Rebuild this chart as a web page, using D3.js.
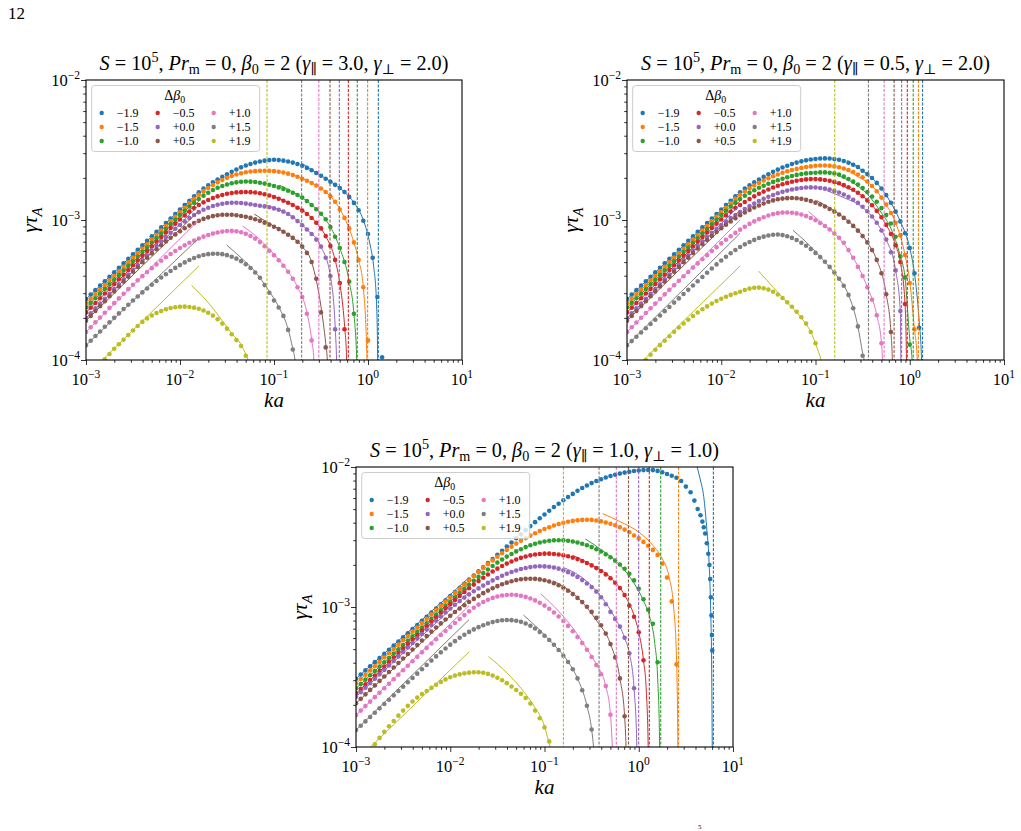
<!DOCTYPE html>
<html>
<head>
<meta charset="utf-8">
<script src="https://cdn.jsdelivr.net/npm/d3@7"></script>
<style>
  html, body { margin: 0; padding: 0; background: #fff; }
  svg text { font-family: "Liberation Serif", "DejaVu Serif", serif; fill: #000; }
</style>
</head>
<body>
<svg id="fig" width="1021" height="831"></svg>
<script>
// ---- shared categories / labels ----
const LOG_KA = [-3.00,-2.95,-2.90,-2.85,-2.80,-2.75,-2.70,-2.65,-2.60,-2.55,-2.50,-2.45,-2.40,-2.35,-2.30,-2.25,-2.20,-2.15,-2.10,-2.05,
  -2.00,-1.95,-1.90,-1.85,-1.80,-1.75,-1.70,-1.65,-1.60,-1.55,-1.50,-1.45,-1.40,-1.35,-1.30,-1.25,-1.20,-1.15,-1.10,-1.05,
  -1.00,-0.95,-0.90,-0.85,-0.80,-0.75,-0.70,-0.65,-0.60,-0.55,-0.50,-0.45,-0.40,-0.35,-0.30,-0.25,-0.20,-0.15,-0.10,-0.05,
  0.00,0.05,0.10,0.15,0.20,0.25,0.30,0.35,0.40,0.45,0.50,0.55];
const SERIES_LABELS = ['\u22121.9','\u22121.5','\u22121.0','\u22120.5','+0.0','+0.5','+1.0','+1.5','+1.9'];
const COLORS = ['#1f77b4','#ff7f0e','#2ca02c','#d62728','#9467bd','#8c564b','#e377c2','#7f7f7f','#bcbd22'];
const X_TICKS = [1e-3, 1e-2, 1e-1, 1e0, 1e1];
const X_TICK_EXP = ['\u22123','\u22122','\u22121','0','1'];
const Y_TICKS = [1e-4, 1e-3, 1e-2];
const Y_TICK_EXP = ['\u22124','\u22123','\u22122'];
const GAMMA_PAR = ['3.0','0.5','1.0'];
const GAMMA_PERP = ['2.0','2.0','1.0'];

// ---- panel 1 (gamma_par = 3.0, gamma_perp = 2.0), log10(gamma tau_A) on LOG_KA ----
const P1_BLUE = [-3.565,-3.533,-3.501,-3.469,-3.437,-3.405,-3.373,-3.341,-3.309,-3.277,
  -3.245,-3.213,-3.181,-3.149,-3.117,-3.085,-3.053,-3.021,-2.989,-2.957,
  -2.925,-2.893,-2.862,-2.831,-2.802,-2.776,-2.753,-2.731,-2.711,-2.692,
  -2.674,-2.656,-2.639,-2.624,-2.611,-2.600,-2.590,-2.582,-2.576,-2.572,
  -2.570,-2.572,-2.576,-2.582,-2.590,-2.600,-2.613,-2.628,-2.645,-2.664,
  -2.684,-2.705,-2.727,-2.749,-2.772,-2.800,-2.835,-2.878,-2.930,-3.005,
  -3.100,-3.270,-3.550,-3.980];
const P1_ORANGE = [-3.595,-3.563,-3.530,-3.498,-3.465,-3.433,-3.400,-3.368,-3.335,-3.303,
  -3.270,-3.238,-3.205,-3.173,-3.140,-3.108,-3.075,-3.043,-3.010,-2.978,
  -2.945,-2.913,-2.880,-2.849,-2.820,-2.794,-2.771,-2.750,-2.731,-2.714,
  -2.699,-2.686,-2.675,-2.666,-2.659,-2.654,-2.651,-2.649,-2.648,-2.649,
  -2.651,-2.655,-2.661,-2.669,-2.679,-2.691,-2.705,-2.720,-2.736,-2.754,
  -2.775,-2.800,-2.830,-2.870,-2.925,-2.985,-3.060,-3.160,-3.285,-3.480,
  -3.860];
const P1_GREEN = [-3.625,-3.592,-3.559,-3.526,-3.493,-3.460,-3.427,-3.394,-3.361,-3.328,
  -3.295,-3.262,-3.229,-3.196,-3.163,-3.130,-3.097,-3.064,-3.031,-2.998,
  -2.965,-2.934,-2.904,-2.876,-2.850,-2.826,-2.805,-2.786,-2.770,-2.757,
  -2.746,-2.737,-2.731,-2.727,-2.725,-2.726,-2.729,-2.734,-2.740,-2.748,
  -2.757,-2.767,-2.778,-2.791,-2.805,-2.821,-2.840,-2.865,-2.893,-2.923,
  -2.955,-2.995,-3.050,-3.120,-3.200,-3.300,-3.440,-3.670];
const P1_RED = [-3.660,-3.626,-3.593,-3.559,-3.525,-3.492,-3.458,-3.424,-3.391,-3.357,
  -3.323,-3.290,-3.256,-3.222,-3.189,-3.155,-3.122,-3.089,-3.057,-3.026,
  -2.996,-2.967,-2.940,-2.915,-2.893,-2.874,-2.857,-2.843,-2.831,-2.821,
  -2.813,-2.807,-2.803,-2.801,-2.800,-2.801,-2.804,-2.809,-2.816,-2.825,
  -2.836,-2.848,-2.862,-2.877,-2.893,-2.912,-2.933,-2.957,-2.986,-3.020,
  -3.060,-3.115,-3.185,-3.285,-3.450,-3.780];
const P1_PURPLE = [-3.700,-3.666,-3.631,-3.597,-3.562,-3.528,-3.493,-3.459,-3.424,-3.390,
  -3.355,-3.321,-3.286,-3.252,-3.218,-3.185,-3.153,-3.122,-3.092,-3.063,
  -3.036,-3.010,-2.986,-2.964,-2.944,-2.927,-2.912,-2.900,-2.891,-2.884,
  -2.879,-2.877,-2.877,-2.879,-2.883,-2.888,-2.893,-2.898,-2.903,-2.909,
  -2.917,-2.927,-2.940,-2.957,-2.980,-3.008,-3.038,-3.068,-3.100,-3.140,
  -3.190,-3.270,-3.400,-3.780];
const P1_BROWN = [-3.720,-3.685,-3.650,-3.615,-3.580,-3.545,-3.510,-3.475,-3.440,-3.405,
  -3.370,-3.336,-3.302,-3.270,-3.239,-3.209,-3.180,-3.153,-3.127,-3.103,
  -3.080,-3.059,-3.040,-3.022,-3.006,-2.992,-2.981,-2.972,-2.966,-2.963,
  -2.962,-2.963,-2.966,-2.971,-2.977,-2.985,-2.995,-3.006,-3.019,-3.033,
  -3.048,-3.065,-3.084,-3.105,-3.128,-3.155,-3.190,-3.235,-3.300,-3.420,
  -3.660,-3.910];
const P1_PINK = [-3.800,-3.766,-3.731,-3.697,-3.662,-3.628,-3.594,-3.560,-3.527,-3.494,
  -3.462,-3.431,-3.401,-3.372,-3.344,-3.317,-3.291,-3.266,-3.243,-3.221,
  -3.200,-3.181,-3.163,-3.147,-3.132,-3.119,-3.107,-3.097,-3.089,-3.083,
  -3.079,-3.078,-3.081,-3.088,-3.099,-3.114,-3.133,-3.158,-3.188,-3.220,
  -3.252,-3.288,-3.327,-3.370,-3.420,-3.480,-3.550,-3.670,-3.860];
const P1_GREY = [-3.895,-3.862,-3.829,-3.796,-3.763,-3.731,-3.699,-3.667,-3.636,-3.605,
  -3.575,-3.546,-3.517,-3.489,-3.462,-3.436,-3.411,-3.387,-3.364,-3.342,
  -3.322,-3.303,-3.286,-3.271,-3.259,-3.250,-3.244,-3.241,-3.241,-3.244,
  -3.251,-3.262,-3.276,-3.294,-3.316,-3.343,-3.375,-3.412,-3.465,-3.520,
  -3.575,-3.625,-3.685,-3.785,-3.925];
const P1_OLIVE = [null,null,null,null,-3.995,-3.957,-3.920,-3.887,-3.855,-3.821,
  -3.789,-3.757,-3.728,-3.703,-3.682,-3.664,-3.650,-3.638,-3.629,-3.623,
  -3.620,-3.619,-3.621,-3.626,-3.634,-3.646,-3.662,-3.683,-3.709,-3.740,
  -3.776,-3.816,-3.858,-3.900,-3.970];

// ---- panel 2 (gamma_par = 0.5, gamma_perp = 2.0) ----
const P2_BLUE = [-3.565,-3.533,-3.501,-3.469,-3.437,-3.405,-3.373,-3.341,-3.309,-3.277,
  -3.245,-3.213,-3.181,-3.149,-3.117,-3.085,-3.053,-3.021,-2.989,-2.957,
  -2.925,-2.893,-2.862,-2.831,-2.802,-2.776,-2.753,-2.731,-2.711,-2.692,
  -2.674,-2.656,-2.640,-2.625,-2.612,-2.600,-2.590,-2.581,-2.574,-2.568,
  -2.564,-2.561,-2.560,-2.561,-2.564,-2.570,-2.579,-2.591,-2.605,-2.621,
  -2.648,-2.672,-2.700,-2.735,-2.775,-2.822,-2.877,-2.940,-3.010,-3.095,
  -3.200,-3.380,-3.770];
const P2_ORANGE = [-3.595,-3.563,-3.530,-3.498,-3.465,-3.433,-3.400,-3.368,-3.335,-3.303,
  -3.270,-3.238,-3.205,-3.173,-3.140,-3.108,-3.075,-3.043,-3.010,-2.978,
  -2.945,-2.913,-2.880,-2.849,-2.820,-2.796,-2.774,-2.754,-2.735,-2.718,
  -2.702,-2.688,-2.675,-2.663,-2.652,-2.643,-2.635,-2.628,-2.622,-2.617,
  -2.613,-2.611,-2.611,-2.613,-2.617,-2.623,-2.632,-2.643,-2.657,-2.675,
  -2.695,-2.725,-2.757,-2.795,-2.840,-2.890,-2.950,-3.020,-3.110,-3.250,
  -3.450,-3.780];
const P2_GREEN = [-3.625,-3.592,-3.559,-3.526,-3.493,-3.460,-3.427,-3.394,-3.361,-3.328,
  -3.295,-3.262,-3.229,-3.196,-3.163,-3.130,-3.097,-3.064,-3.031,-2.998,
  -2.965,-2.934,-2.904,-2.876,-2.850,-2.827,-2.806,-2.787,-2.770,-2.755,
  -2.741,-2.728,-2.716,-2.705,-2.695,-2.686,-2.678,-2.672,-2.667,-2.664,
  -2.662,-2.660,-2.660,-2.662,-2.667,-2.675,-2.690,-2.707,-2.726,-2.747,
  -2.772,-2.800,-2.832,-2.870,-2.915,-2.965,-3.025,-3.120,-3.260,-3.410,
  -3.890];
const P2_RED = [-3.660,-3.626,-3.593,-3.559,-3.525,-3.492,-3.458,-3.424,-3.391,-3.357,
  -3.323,-3.290,-3.256,-3.222,-3.189,-3.155,-3.122,-3.089,-3.057,-3.026,
  -2.996,-2.967,-2.940,-2.915,-2.893,-2.871,-2.850,-2.831,-2.813,-2.797,
  -2.782,-2.768,-2.756,-2.745,-2.735,-2.727,-2.720,-2.714,-2.710,-2.708,
  -2.708,-2.710,-2.714,-2.720,-2.728,-2.738,-2.751,-2.766,-2.784,-2.805,
  -2.830,-2.860,-2.895,-2.935,-2.980,-3.035,-3.100,-3.180,-3.300,-3.600];
const P2_PURPLE = [-3.700,-3.666,-3.631,-3.597,-3.562,-3.528,-3.493,-3.459,-3.424,-3.390,
  -3.355,-3.321,-3.286,-3.252,-3.218,-3.185,-3.153,-3.122,-3.092,-3.063,
  -3.036,-3.010,-2.986,-2.964,-2.944,-2.922,-2.901,-2.882,-2.864,-2.848,
  -2.834,-2.821,-2.809,-2.799,-2.790,-2.782,-2.776,-2.771,-2.768,-2.767,
  -2.768,-2.771,-2.776,-2.783,-2.792,-2.804,-2.818,-2.835,-2.855,-2.878,
  -2.905,-2.937,-2.975,-3.020,-3.075,-3.140,-3.230,-3.360,-3.650];
const P2_BROWN = [-3.720,-3.685,-3.650,-3.615,-3.580,-3.545,-3.510,-3.475,-3.440,-3.405,
  -3.370,-3.336,-3.302,-3.269,-3.236,-3.204,-3.173,-3.143,-3.114,-3.086,
  -3.059,-3.034,-3.010,-2.987,-2.966,-2.946,-2.928,-2.911,-2.896,-2.882,
  -2.870,-2.860,-2.852,-2.847,-2.844,-2.843,-2.845,-2.849,-2.856,-2.865,
  -2.876,-2.889,-2.904,-2.921,-2.940,-2.961,-2.985,-3.012,-3.042,-3.076,
  -3.115,-3.160,-3.215,-3.285,-3.380,-3.530,-3.800];
const P2_PINK = [-3.800,-3.766,-3.732,-3.698,-3.664,-3.630,-3.597,-3.564,-3.531,-3.498,
  -3.466,-3.434,-3.402,-3.371,-3.340,-3.310,-3.280,-3.251,-3.222,-3.194,
  -3.167,-3.141,-3.116,-3.092,-3.069,-3.048,-3.028,-3.010,-2.994,-2.980,
  -2.968,-2.958,-2.951,-2.947,-2.946,-2.948,-2.953,-2.961,-2.972,-2.986,
  -3.002,-3.021,-3.043,-3.068,-3.096,-3.127,-3.162,-3.215,-3.270,-3.335,
  -3.400,-3.480,-3.570,-3.680,-3.880];
const P2_GREY = [-3.895,-3.865,-3.834,-3.804,-3.773,-3.743,-3.712,-3.682,-3.651,-3.621,
  -3.590,-3.560,-3.529,-3.499,-3.468,-3.438,-3.407,-3.377,-3.346,-3.317,
  -3.289,-3.262,-3.237,-3.214,-3.193,-3.174,-3.157,-3.142,-3.129,-3.119,
  -3.111,-3.105,-3.104,-3.108,-3.116,-3.128,-3.143,-3.162,-3.184,-3.208,
  -3.235,-3.265,-3.298,-3.335,-3.375,-3.420,-3.470,-3.535,-3.630,-3.760,
  -3.970];
const P2_OLIVE = [null,null,null,null,-4.000,-3.962,-3.927,-3.894,-3.862,-3.830,
  -3.799,-3.768,-3.739,-3.712,-3.686,-3.661,-3.638,-3.617,-3.597,-3.579,
  -3.563,-3.548,-3.535,-3.523,-3.512,-3.500,-3.490,-3.484,-3.483,-3.487,
  -3.497,-3.512,-3.532,-3.557,-3.587,-3.620,-3.655,-3.695,-3.740,-3.800,
  -3.880];

// ---- panel 3 (gamma_par = 1.0, gamma_perp = 1.0) ----
const P3_BLUE = [-3.512,-3.483,-3.453,-3.424,-3.394,-3.365,-3.335,-3.306,-3.276,-3.247,
  -3.217,-3.188,-3.158,-3.129,-3.099,-3.070,-3.040,-3.011,-2.981,-2.952,
  -2.922,-2.893,-2.863,-2.834,-2.804,-2.775,-2.745,-2.716,-2.686,-2.657,
  -2.627,-2.598,-2.568,-2.539,-2.509,-2.480,-2.451,-2.422,-2.394,-2.366,
  -2.339,-2.312,-2.286,-2.262,-2.238,-2.214,-2.192,-2.170,-2.150,-2.132,
  -2.115,-2.100,-2.087,-2.075,-2.064,-2.055,-2.047,-2.040,-2.034,-2.029,
  -2.025,-2.022,-2.021,-2.022,-2.028,-2.038,-2.050,-2.062,-2.077,-2.100,
  -2.140,-2.180];
const P3_BLUE_TAIL_KA = [0.590,0.625,0.655,0.675,0.690,0.705,0.722,0.738,0.750,0.758,0.765,0.771,0.776,0.780];
const P3_BLUE_TAIL = [-2.240,-2.300,-2.345,-2.390,-2.430,-2.475,-2.545,-2.620,-2.700,-2.800,-2.930,-3.060,-3.200,-3.310];
const P3_ORANGE = [-3.546,-3.515,-3.484,-3.454,-3.423,-3.392,-3.361,-3.330,-3.300,-3.269,
  -3.238,-3.207,-3.176,-3.146,-3.115,-3.084,-3.053,-3.022,-2.992,-2.961,
  -2.930,-2.899,-2.869,-2.839,-2.810,-2.780,-2.751,-2.722,-2.694,-2.667,
  -2.641,-2.616,-2.592,-2.569,-2.547,-2.527,-2.508,-2.490,-2.473,-2.457,
  -2.443,-2.430,-2.418,-2.407,-2.398,-2.391,-2.385,-2.381,-2.378,-2.377,
  -2.378,-2.382,-2.388,-2.396,-2.405,-2.416,-2.430,-2.447,-2.466,-2.489,
  -2.510,-2.535,-2.563,-2.592,-2.628,-2.690,-2.790,-2.960,-3.410];
const P3_GREEN = [-3.581,-3.550,-3.519,-3.488,-3.457,-3.426,-3.395,-3.364,-3.333,-3.302,
  -3.271,-3.240,-3.209,-3.178,-3.147,-3.116,-3.085,-3.054,-3.023,-2.992,
  -2.961,-2.930,-2.900,-2.870,-2.841,-2.813,-2.785,-2.758,-2.732,-2.707,
  -2.683,-2.661,-2.640,-2.621,-2.603,-2.587,-2.572,-2.559,-2.548,-2.539,
  -2.532,-2.527,-2.524,-2.523,-2.524,-2.527,-2.532,-2.539,-2.548,-2.559,
  -2.572,-2.587,-2.604,-2.623,-2.645,-2.669,-2.696,-2.727,-2.762,-2.810,
  -2.870,-2.945,-3.020,-3.120,-3.395];
const P3_RED = [-3.617,-3.585,-3.553,-3.521,-3.489,-3.457,-3.425,-3.393,-3.361,-3.329,
  -3.297,-3.265,-3.233,-3.201,-3.169,-3.137,-3.105,-3.073,-3.041,-3.010,
  -2.980,-2.950,-2.921,-2.893,-2.866,-2.840,-2.815,-2.791,-2.768,-2.746,
  -2.726,-2.707,-2.690,-2.675,-2.661,-2.649,-2.639,-2.631,-2.625,-2.621,
  -2.619,-2.619,-2.621,-2.625,-2.631,-2.638,-2.647,-2.658,-2.671,-2.686,
  -2.703,-2.722,-2.743,-2.767,-2.795,-2.827,-2.865,-2.915,-2.990,-3.070,
  -3.180,-3.380];
const P3_PURPLE = [-3.641,-3.609,-3.577,-3.545,-3.513,-3.481,-3.449,-3.417,-3.385,-3.353,
  -3.321,-3.289,-3.257,-3.225,-3.193,-3.161,-3.129,-3.098,-3.068,-3.039,
  -3.011,-2.984,-2.958,-2.933,-2.910,-2.888,-2.867,-2.847,-2.828,-2.810,
  -2.793,-2.777,-2.763,-2.750,-2.739,-2.729,-2.721,-2.715,-2.711,-2.709,
  -2.710,-2.713,-2.718,-2.726,-2.737,-2.751,-2.767,-2.786,-2.808,-2.832,
  -2.858,-2.890,-2.930,-2.980,-3.035,-3.085,-3.140,-3.220,-3.330,-3.580];
const P3_BROWN = [-3.688,-3.656,-3.624,-3.592,-3.560,-3.528,-3.496,-3.464,-3.432,-3.400,
  -3.368,-3.336,-3.304,-3.272,-3.240,-3.208,-3.176,-3.146,-3.117,-3.089,
  -3.062,-3.036,-3.011,-2.987,-2.964,-2.942,-2.921,-2.901,-2.883,-2.866,
  -2.851,-2.838,-2.826,-2.816,-2.808,-2.802,-2.799,-2.798,-2.799,-2.803,
  -2.809,-2.818,-2.830,-2.845,-2.863,-2.884,-2.908,-2.935,-2.965,-2.998,
  -3.035,-3.078,-3.130,-3.190,-3.265,-3.360,-3.510,-3.780];
const P3_PINK = [-3.772,-3.740,-3.708,-3.676,-3.644,-3.612,-3.580,-3.548,-3.516,-3.484,
  -3.452,-3.420,-3.388,-3.356,-3.324,-3.292,-3.261,-3.230,-3.200,-3.171,
  -3.142,-3.114,-3.086,-3.058,-3.030,-3.005,-2.983,-2.964,-2.948,-2.935,
  -2.925,-2.918,-2.914,-2.913,-2.915,-2.920,-2.928,-2.939,-2.953,-2.970,
  -2.990,-3.013,-3.039,-3.068,-3.100,-3.135,-3.173,-3.214,-3.258,-3.305,
  -3.357,-3.415,-3.480,-3.565,-3.770];
const P3_GREY = [-3.879,-3.848,-3.817,-3.786,-3.755,-3.724,-3.693,-3.662,-3.631,-3.600,
  -3.569,-3.538,-3.507,-3.476,-3.445,-3.414,-3.383,-3.353,-3.324,-3.296,
  -3.269,-3.244,-3.220,-3.198,-3.178,-3.160,-3.144,-3.130,-3.118,-3.108,
  -3.100,-3.095,-3.093,-3.094,-3.098,-3.106,-3.118,-3.134,-3.154,-3.178,
  -3.205,-3.236,-3.270,-3.307,-3.348,-3.393,-3.445,-3.510,-3.595,-3.705,
  -3.875];
const P3_OLIVE = [null,null,null,null,-3.980,-3.935,-3.892,-3.852,-3.814,-3.776,
  -3.740,-3.706,-3.675,-3.647,-3.622,-3.600,-3.578,-3.555,-3.535,-3.517,
  -3.502,-3.490,-3.481,-3.474,-3.469,-3.466,-3.466,-3.470,-3.478,-3.490,
  -3.505,-3.523,-3.544,-3.568,-3.593,-3.620,-3.650,-3.690,-3.740,-3.795,
  -3.860,-3.960];

// ---- small-k asymptotes: log10 value at ka = 1e-3 and at ka = 10^-1.8 ----
const FIT_LO_KA = [-3.0, -1.8];
const P1_FIT_LO_START = [-3.565,-3.595,-3.625,-3.660,-3.700,-3.720,-3.800,-3.895,-4.114];
const P1_FIT_LO_END   = [-2.798,-2.817,-2.840,-2.865,-2.895,-2.935,-3.000,-3.131,-3.329];
const P2_FIT_LO_START = [-3.565,-3.595,-3.625,-3.660,-3.700,-3.720,-3.800,-3.895,-4.114];
const P2_FIT_LO_END   = [-2.800,-2.817,-2.840,-2.862,-2.892,-2.932,-3.000,-3.095,-3.329];
const P3_FIT_LO_START = [-3.512,-3.546,-3.581,-3.617,-3.641,-3.688,-3.772,-3.879,-4.100];
const P3_FIT_LO_END   = [-2.790,-2.810,-2.835,-2.860,-2.895,-2.940,-2.990,-3.090,-3.320];

// ---- large-k asymptotes: [log10 ka, log10 gamma] vertices ----
const P1_FIT_HI = [
  [[-0.70,-2.597],[-0.55,-2.662],[-0.40,-2.724],[-0.25,-2.800],[-0.15,-2.876],[-0.05,-3.000],[0.02,-3.170],[0.06,-3.330],[0.09,-3.580],[0.103,-4.0],[0.11,-5]],
  [[-0.80,-2.676],[-0.65,-2.718],[-0.50,-2.775],[-0.35,-2.870],[-0.25,-2.985],[-0.15,-3.160],[-0.10,-3.285],[-0.05,-3.480],[-0.011,-4.0],[-0.004,-5]],
  [[-0.94,-2.752],[-0.80,-2.800],[-0.65,-2.865],[-0.50,-2.955],[-0.40,-3.050],[-0.30,-3.200],[-0.20,-3.440],[-0.15,-3.670],[-0.12,-4.0],[-0.114,-5]],
  [[-1.02,-2.826],[-0.85,-2.875],[-0.70,-2.930],[-0.55,-3.020],[-0.45,-3.115],[-0.35,-3.285],[-0.30,-3.450],[-0.25,-3.750],[-0.227,-4.0],[-0.209,-5]],
  [[-1.11,-2.891],[-0.95,-2.925],[-0.80,-2.980],[-0.65,-3.068],[-0.50,-3.190],[-0.40,-3.400],[-0.35,-3.750],[-0.334,-4.0],[-0.305,-5]],
  [[-1.21,-2.958],[-1.00,-3.045],[-0.85,-3.103],[-0.70,-3.190],[-0.60,-3.300],[-0.50,-3.620],[-0.45,-3.880],[-0.433,-4.0],[-0.404,-5]],
  [[-1.335,-3.042],[-1.15,-3.140],[-1.00,-3.245],[-0.85,-3.368],[-0.75,-3.478],[-0.65,-3.660],[-0.60,-3.850],[-0.575,-4.0],[-0.523,-5]],
  [[-1.505,-3.178],[-1.35,-3.270],[-1.20,-3.370],[-1.05,-3.510],[-0.95,-3.620],[-0.85,-3.780],[-0.80,-3.920],[-0.777,-4.0],[-0.706,-5]],
  [[-1.877,-3.468],[-1.70,-3.590],[-1.55,-3.720],[-1.45,-3.810],[-1.35,-3.890],[-1.30,-3.960],[-1.275,-4.0],[-1.074,-5]]
];
const P2_FIT_HI = [
  [[-0.668,-2.575],[-0.50,-2.648],[-0.35,-2.735],[-0.20,-2.877],[-0.10,-3.010],[0.00,-3.200],[0.05,-3.380],[0.10,-3.720],[0.125,-4.0],[0.136,-5]],
  [[-0.72,-2.625],[-0.55,-2.690],[-0.40,-2.757],[-0.25,-2.890],[-0.15,-3.020],[-0.05,-3.250],[0.00,-3.440],[0.05,-3.780],[0.08,-4.0],[0.092,-5]],
  [[-0.774,-2.680],[-0.60,-2.735],[-0.45,-2.815],[-0.30,-2.950],[-0.20,-3.060],[-0.10,-3.260],[-0.05,-3.410],[0.00,-3.850],[0.025,-4.0],[0.037,-5]],
  [[-0.827,-2.725],[-0.65,-2.775],[-0.50,-2.830],[-0.35,-2.935],[-0.25,-3.035],[-0.15,-3.180],[-0.10,-3.300],[-0.05,-3.600],[-0.035,-4.0],[-0.026,-5]],
  [[-0.88,-2.790],[-0.70,-2.840],[-0.50,-2.910],[-0.35,-3.020],[-0.25,-3.140],[-0.15,-3.360],[-0.10,-3.650],[-0.095,-4.0],[-0.086,-5]],
  [[-0.986,-2.862],[-0.80,-2.935],[-0.60,-3.040],[-0.45,-3.160],[-0.35,-3.285],[-0.25,-3.530],[-0.20,-3.800],[-0.185,-4.0],[-0.166,-5]],
  [[-1.074,-2.939],[-0.90,-3.040],[-0.75,-3.130],[-0.60,-3.270],[-0.45,-3.480],[-0.35,-3.680],[-0.30,-3.880],[-0.29,-4.0],[-0.272,-5]],
  [[-1.24,-3.073],[-1.05,-3.190],[-0.90,-3.300],[-0.75,-3.420],[-0.65,-3.535],[-0.55,-3.760],[-0.50,-3.950],[-0.485,-4.0],[-0.438,-5]],
  [[-1.604,-3.365],[-1.45,-3.480],[-1.30,-3.590],[-1.15,-3.700],[-1.05,-3.800],[-0.98,-3.920],[-0.942,-4.0],[-0.796,-5]]
];
const P3_FIT_HI = [
  [[0.50,-1.720],[0.56,-1.840],[0.62,-2.000],[0.66,-2.110],[0.685,-2.190],[0.72,-2.426],[0.745,-2.664],[0.763,-3.020],[0.773,-3.380],[0.78,-4.0],[0.792,-5]],
  [[-0.383,-2.333],[-0.20,-2.390],[0.00,-2.465],[0.15,-2.560],[0.25,-2.655],[0.32,-2.780],[0.37,-3.000],[0.40,-3.350],[0.415,-4.0],[0.422,-5]],
  [[-0.568,-2.513],[-0.40,-2.590],[-0.20,-2.700],[-0.05,-2.830],[0.05,-2.955],[0.12,-3.080],[0.17,-3.260],[0.20,-3.500],[0.222,-4.0],[0.233,-5]],
  [[-0.692,-2.634],[-0.50,-2.700],[-0.30,-2.790],[-0.15,-2.915],[-0.05,-3.060],[0.00,-3.180],[0.05,-3.380],[0.08,-3.600],[0.10,-4.0],[0.112,-5]],
  [[-0.791,-2.720],[-0.60,-2.790],[-0.40,-2.925],[-0.25,-3.080],[-0.15,-3.220],[-0.10,-3.330],[-0.05,-3.580],[-0.02,-4.0],[-0.001,-5]],
  [[-0.912,-2.812],[-0.75,-2.875],[-0.60,-2.965],[-0.45,-3.095],[-0.30,-3.265],[-0.20,-3.510],[-0.15,-3.780],[-0.135,-4.0],[-0.109,-5]],
  [[-1.039,-2.907],[-0.85,-3.030],[-0.70,-3.150],[-0.55,-3.300],[-0.45,-3.410],[-0.35,-3.565],[-0.30,-3.770],[-0.28,-4.0],[-0.238,-5]],
  [[-1.223,-3.057],[-1.05,-3.165],[-0.90,-3.270],[-0.75,-3.390],[-0.65,-3.510],[-0.55,-3.705],[-0.50,-3.875],[-0.48,-4.0],[-0.421,-5]],
  [[-1.595,-3.354],[-1.40,-3.470],[-1.25,-3.580],[-1.10,-3.720],[-1.00,-3.850],[-0.96,-3.950],[-0.94,-4.0],[-0.799,-5]]
];

// ---- cutoff wavenumbers (log10 ka), dashed verticals ----
const P1_CUTOFF = [0.110,-0.004,-0.114,-0.209,-0.305,-0.404,-0.523,-0.706,-1.074];
const P2_CUTOFF = [0.136,0.092,0.037,-0.026,-0.086,-0.166,-0.272,-0.438,-0.796];
const P3_CUTOFF = [0.792,0.422,0.233,0.112,-0.001,-0.109,-0.238,-0.421,-0.799];

const PANELS = [
  { box: { left: 86, right: 462, top: 80, bottom: 360 },
    dots: [P1_BLUE,P1_ORANGE,P1_GREEN,P1_RED,P1_PURPLE,P1_BROWN,P1_PINK,P1_GREY,P1_OLIVE],
    loStart: P1_FIT_LO_START, loEnd: P1_FIT_LO_END, hi: P1_FIT_HI, cut: P1_CUTOFF },
  { box: { left: 627, right: 1004, top: 80, bottom: 360 },
    dots: [P2_BLUE,P2_ORANGE,P2_GREEN,P2_RED,P2_PURPLE,P2_BROWN,P2_PINK,P2_GREY,P2_OLIVE],
    loStart: P2_FIT_LO_START, loEnd: P2_FIT_LO_END, hi: P2_FIT_HI, cut: P2_CUTOFF },
  { box: { left: 356, right: 733, top: 467, bottom: 747 },
    dots: [P3_BLUE,P3_ORANGE,P3_GREEN,P3_RED,P3_PURPLE,P3_BROWN,P3_PINK,P3_GREY,P3_OLIVE],
    loStart: P3_FIT_LO_START, loEnd: P3_FIT_LO_END, hi: P3_FIT_HI, cut: P3_CUTOFF,
    tail: { series: 0, ka: P3_BLUE_TAIL_KA, g: P3_BLUE_TAIL } },
];

const svg = d3.select('#fig');
const pow10 = (v) => Math.pow(10, v);

// text with italic / sub / sup pieces, as LaTeX does it
function mathText(parent, parts, fs, x, y, anchor) {
  const t = parent.append('text').attr('x', x).attr('y', y)
    .attr('text-anchor', anchor || 'middle').style('font-size', `${fs}px`);
  let level = 0;
  parts.forEach(([str, kind]) => {
    const ts = t.append('tspan').text(str);
    let off = 0;
    let size = fs;
    if (kind.includes('sup')) { off = -0.42 * fs; size = 0.7 * fs; }
    else if (kind.includes('sub')) { off = 0.22 * fs; size = 0.7 * fs; }
    ts.attr('dy', off - level).style('font-size', `${size}px`);
    if (kind.startsWith('i')) ts.style('font-style', 'italic');
    level = off;
  });
  return t;
}
function fitMath(parent, parts, fs, x, y, anchor, width) {
  const probe = mathText(parent, parts, fs, x, y, anchor);
  const w = probe.node().getBBox().width;
  probe.remove();
  return mathText(parent, parts, fs * width / w, x, y, anchor);
}

// page number and stray footnote mark
svg.append('text').attr('x', 8).attr('y', 19).style('font-size', '17px').text('12');
svg.append('text').attr('x', 698).attr('y', 829).style('font-size', '7px').text('5');

PANELS.forEach((p, pi) => {
  const { left, right, top, bottom } = p.box;
  const x = d3.scaleLog().domain([1e-3, 10]).range([left, right]);
  const y = d3.scaleLog().domain([1e-4, 1e-2]).range([bottom, top]);
  const g = svg.append('g');
  const clipId = `clip${pi}`;
  svg.append('clipPath').attr('id', clipId).append('rect')
    .attr('x', left).attr('y', top).attr('width', right - left).attr('height', bottom - top);
  const plot = g.append('g').attr('clip-path', `url(#${clipId})`);

  const lineFn = d3.line().x((d) => x(pow10(d[0]))).y((d) => y(pow10(d[1])));
  const curveFn = d3.line().x((d) => x(pow10(d[0]))).y((d) => y(pow10(d[1]))).curve(d3.curveMonotoneX);

  p.dots.forEach((arr, s) => {
    const color = COLORS[s];
    let pts = arr.map((v, i) => [LOG_KA[i], v]).filter((d) => d[1] !== null);
    if (p.tail && p.tail.series === s) {
      pts = pts.concat(p.tail.ka.map((k, i) => [k, p.tail.g[i]]));
    }
    plot.append('g').selectAll('circle').data(pts).join('circle')
      .attr('cx', (d) => x(pow10(d[0])))
      .attr('cy', (d) => y(pow10(d[1])))
      .attr('r', 2.3)
      .attr('fill', color);

    // small-k asymptote
    plot.append('path')
      .attr('d', lineFn([[FIT_LO_KA[0], p.loStart[s]], [FIT_LO_KA[1], p.loEnd[s]]]))
      .attr('fill', 'none').attr('stroke', color).attr('stroke-width', 1);
    // large-k asymptote
    plot.append('path')
      .attr('d', curveFn(p.hi[s]))
      .attr('fill', 'none').attr('stroke', color).attr('stroke-width', 1);
    // cutoff
    plot.append('line')
      .attr('x1', x(pow10(p.cut[s]))).attr('x2', x(pow10(p.cut[s])))
      .attr('y1', top).attr('y2', bottom)
      .attr('stroke', color).attr('stroke-width', 1.1).attr('stroke-dasharray', '3,1.5');
  });

  // axes: ticks outward, decades major, 2..9 minor
  const minorX = [];
  for (let e = -3; e < 1; e++) for (let m = 2; m <= 9; m++) minorX.push(m * Math.pow(10, e));
  const minorY = [];
  for (let e = -4; e < -2; e++) for (let m = 2; m <= 9; m++) minorY.push(m * Math.pow(10, e));

  const axG = g.append('g');
  axG.append('g').attr('transform', `translate(0,${bottom})`)
    .call(d3.axisBottom(x).tickValues(X_TICKS).tickSize(5).tickFormat(''))
    .call((a) => a.select('.domain').remove());
  axG.append('g').attr('transform', `translate(0,${bottom})`)
    .call(d3.axisBottom(x).tickValues(minorX).tickSize(2.8).tickFormat(''))
    .call((a) => a.select('.domain').remove());
  axG.append('g').attr('transform', `translate(${left},0)`)
    .call(d3.axisLeft(y).tickValues(Y_TICKS).tickSize(5).tickFormat(''))
    .call((a) => a.select('.domain').remove());
  axG.append('g').attr('transform', `translate(${left},0)`)
    .call(d3.axisLeft(y).tickValues(minorY).tickSize(2.8).tickFormat(''))
    .call((a) => a.select('.domain').remove());
  axG.selectAll('.tick line').attr('stroke', '#000').attr('stroke-width', 0.8);

  g.append('rect').attr('x', left).attr('y', top).attr('width', right - left).attr('height', bottom - top)
    .attr('fill', 'none').attr('stroke', '#000').attr('stroke-width', 1.1);

  X_TICKS.forEach((t, i) => {
    mathText(g, [['10', ''], [X_TICK_EXP[i], 'sup']], 16.5, x(t), bottom + 25, 'middle');
  });
  Y_TICKS.forEach((t, i) => {
    mathText(g, [['10', ''], [Y_TICK_EXP[i], 'sup']], 16.5, left - 6, y(t) + 6, 'end');
  });

  // axis labels
  mathText(g, [['ka', 'i']], 21, (left + right) / 2, bottom + 47, 'middle');
  const yl = g.append('g').attr('transform', `translate(${left - 49},${(top + bottom) / 2}) rotate(-90)`);
  mathText(yl, [['\u03b3\u03c4', 'i'], ['A', 'isub']], 21, 0, 0, 'middle');

  // title
  fitMath(g, [['S', 'i'], [' = 10', ''], ['5', 'sup'], [', ', ''], ['Pr', 'i'], ['m', 'sub'], [' = 0, ', ''],
    ['\u03b2', 'i'], ['0', 'sub'], [' = 2 (', ''], ['\u03b3', 'i'], ['\u2225', 'sub'],
    [` = ${GAMMA_PAR[pi]}, `, ''], ['\u03b3', 'i'], ['\u22a5', 'sub'], [` = ${GAMMA_PERP[pi]})`, '']],
    16, (left + right) / 2, top - 10, 'middle', 349);

  // legend
  const lx = left + 5.7;
  const ly = top + 5.5;
  const lg = g.append('g');
  lg.append('rect').attr('x', lx).attr('y', ly).attr('width', 168).attr('height', 66).attr('rx', 3)
    .attr('fill', '#fff').attr('fill-opacity', 0.8).attr('stroke', '#cccccc').attr('stroke-width', 1);
  mathText(lg, [['\u0394', ''], ['\u03b2', 'i'], ['0', 'sub']], 14, lx + 83, ly + 14.5, 'middle');
  SERIES_LABELS.forEach((lab, s) => {
    const col = Math.floor(s / 3);
    const row = s % 3;
    const cy = ly + 27.5 + row * 14;
    lg.append('circle').attr('cx', lx + 10 + col * 56).attr('cy', cy).attr('r', 2.2).attr('fill', COLORS[s]);
    lg.append('text').attr('x', lx + 25 + col * 56).attr('y', cy + 4.3)
      .style('font-size', '12px').text(lab);
  });
});
</script>
</body>
</html>
